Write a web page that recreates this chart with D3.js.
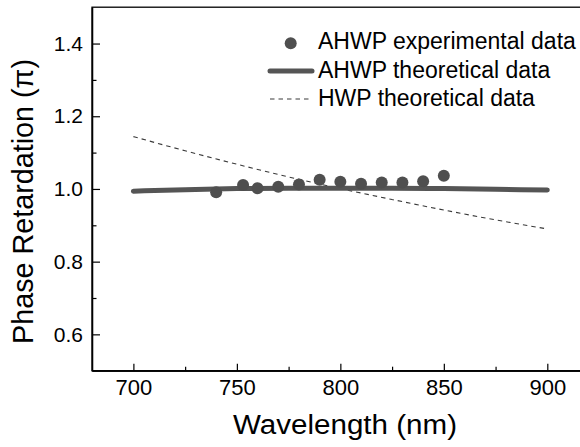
<!DOCTYPE html>
<html>
<head>
<meta charset="utf-8">
<script src="https://cdn.jsdelivr.net/npm/d3@7"></script>
<style>
  body { margin: 0; background: #fff; }
  svg text { font-family: "Liberation Sans", Arial, sans-serif; fill: #000; }
</style>
</head>
<body>
<svg id="chart" width="580" height="447"></svg>
<script>
// values
const expWavelength = [740, 753, 760, 770, 780, 790, 800, 810, 820, 830, 840, 850];
const expPhase = [0.991, 1.011, 1.002, 1.006, 1.012, 1.025, 1.020, 1.014, 1.018, 1.018, 1.021, 1.036];

const ahwpWavelength = [700, 725, 750, 775, 800, 825, 850, 875, 900];
const ahwpPhase = [0.994, 0.998, 1.001, 1.002, 1.002, 1.002, 1.001, 0.999, 0.997];

const hwpWavelength = [700, 725, 750, 775, 800, 825, 850, 875, 900];
const hwpPhase = [1.144, 1.105, 1.068, 1.033, 1.001, 0.971, 0.942, 0.915, 0.890];

const xMajor = [700, 750, 800, 850, 900];
const xMinor = [725, 775, 825, 875];
const yMajor = [0.6, 0.8, 1.0, 1.2, 1.4];
const yMinor = [0.7, 0.9, 1.1, 1.3];

const legendLabels = ["AHWP experimental data", "AHWP theoretical data", "HWP theoretical data"];

(function() {
    const svg = d3.select("#chart");

    const left = 92, right = 588.7, top = 7.2, bottom = 370.7;

    const x = d3.scaleLinear().domain([680, 920]).range([left, right]);
    const y = d3.scaleLinear().domain([0.5, 1.5]).range([bottom, top]);

    // frame (right edge falls outside the window, as in the reference)
    svg.append("rect")
        .attr("x", left).attr("y", top)
        .attr("width", right - left).attr("height", bottom - top)
        .attr("fill", "none").attr("stroke", "#000").attr("stroke-width", 1.3);

    // axes, ticks pointing inward
    const xAxis = svg.append("g")
        .attr("transform", `translate(0,${bottom})`)
        .call(d3.axisBottom(x).tickValues(xMajor).tickSize(-7).tickSizeOuter(0).tickPadding(9));
    svg.append("g")
        .attr("transform", `translate(0,${bottom})`)
        .call(d3.axisBottom(x).tickValues(xMinor).tickSize(-4).tickSizeOuter(0).tickFormat(""));

    const yAxis = svg.append("g")
        .attr("transform", `translate(${left},0)`)
        .call(d3.axisLeft(y).tickValues(yMajor).tickSize(-8).tickSizeOuter(0).tickPadding(9)
            .tickFormat(d3.format(".1f")));
    svg.append("g")
        .attr("transform", `translate(${left},0)`)
        .call(d3.axisLeft(y).tickValues(yMinor).tickSize(-4.5).tickSizeOuter(0).tickFormat(""));

    svg.selectAll(".domain").attr("stroke", "#000").attr("stroke-width", 1.3);
    svg.selectAll(".tick line").attr("stroke", "#000").attr("stroke-width", 1.2);
    xAxis.selectAll("text").attr("font-size", 22);
    yAxis.selectAll("text").attr("font-size", 21);
    svg.selectAll(".tick text").attr("font-family", "Liberation Sans, Arial, sans-serif").attr("fill", "#000");

    // axis titles
    svg.append("text")
        .attr("x", 345).attr("y", 434.3)
        .attr("text-anchor", "middle")
        .attr("font-size", 27)
        .attr("textLength", 224).attr("lengthAdjust", "spacingAndGlyphs")
        .text("Wavelength (nm)");

    svg.append("text")
        .attr("transform", "translate(33,201.5) rotate(-90)")
        .attr("text-anchor", "middle")
        .attr("font-size", 29.5)
        .attr("textLength", 285).attr("lengthAdjust", "spacingAndGlyphs")
        .text("Phase Retardation (\u03c0)");

    // HWP theoretical (dashed)
    const hwpLine = d3.line().x((d, i) => x(hwpWavelength[i])).y(d => y(d)).curve(d3.curveMonotoneX);
    svg.append("path")
        .attr("d", hwpLine(hwpPhase))
        .attr("fill", "none").attr("stroke", "#3a3a3a").attr("stroke-width", 1.1)
        .attr("stroke-dasharray", "4.5,4");

    // AHWP theoretical (thick solid)
    const ahwpLine = d3.line().x((d, i) => x(ahwpWavelength[i])).y(d => y(d)).curve(d3.curveMonotoneX);
    svg.append("path")
        .attr("d", ahwpLine(ahwpPhase))
        .attr("fill", "none").attr("stroke", "#555").attr("stroke-width", 5)
        .attr("stroke-linecap", "round");

    // AHWP experimental points
    svg.append("g")
        .selectAll("circle")
        .data(expPhase)
        .join("circle")
        .attr("cx", (d, i) => x(expWavelength[i]))
        .attr("cy", d => y(d))
        .attr("r", 6)
        .attr("fill", "#4f4f4f");

    // legend
    const legend = svg.append("g");
    legend.append("circle").attr("cx", 290.7).attr("cy", 43.3).attr("r", 6).attr("fill", "#4f4f4f");
    legend.append("line").attr("x1", 270).attr("x2", 312).attr("y1", 71).attr("y2", 71)
        .attr("stroke", "#555").attr("stroke-width", 5).attr("stroke-linecap", "round");
    legend.append("line").attr("x1", 270).attr("x2", 312).attr("y1", 99).attr("y2", 99)
        .attr("stroke", "#3a3a3a").attr("stroke-width", 1.1).attr("stroke-dasharray", "4.5,4");
    legend.selectAll("text")
        .data(legendLabels)
        .join("text")
        .attr("x", 318)
        .attr("y", (d, i) => 49 + i * 28.5)
        .attr("font-size", 23)
        .text(d => d);
})();
</script>
</body>
</html>
